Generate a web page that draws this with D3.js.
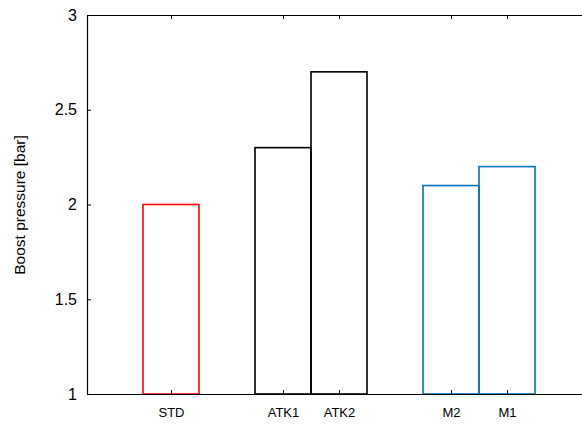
<!DOCTYPE html>
<html>
<head>
<meta charset="utf-8">
<script src="https://cdn.jsdelivr.net/npm/d3@7"></script>
<style>
  body { margin: 0; background: #fff; }
  text { font-family: "Liberation Sans", Arial, sans-serif; }
</style>
</head>
<body>
<div id="chart"></div>
<script>
// bar data
const categories = ["STD", "ATK1", "ATK2", "M2", "M1"];
const positions = [1, 3, 4, 6, 7];
const values = [2.0, 2.3, 2.7, 2.1, 2.2];
const groups = ["std", "atk", "atk", "mod", "mod"];
const yTicks = [1, 1.5, 2, 2.5, 3];

const colors = { std: "#ff0000", atk: "#000000", mod: "#0072bd" };

const width = 582, height = 427;
const plotLeft = 87, plotTop = 15, plotBottom = 394, plotRight = 591;

var svg = d3.select("#chart")
    .append("svg")
    .attr("width", width)
    .attr("height", height);

var x = d3.scaleLinear().domain([-0.5, 8.5]).range([plotLeft, plotRight]);
var y = d3.scaleLinear().domain([1, 3]).range([plotBottom, plotTop]);

// bars
svg.append("g")
    .selectAll("rect")
    .data(values)
    .enter().append("rect")
    .attr("x", function(d, i) { return x(positions[i] - 0.5); })
    .attr("width", function(d, i) { return x(positions[i] + 0.5) - x(positions[i] - 0.5); })
    .attr("y", function(d) { return y(d); })
    .attr("height", function(d) { return y(1) - y(d); })
    .style("fill", "none")
    .style("stroke", function(d, i) { return colors[groups[i]]; })
    .style("stroke-width", 1.6);

// axes (ticks inward, mirrored top)
var xAxis = d3.axisBottom(x).tickValues(positions)
    .tickFormat(function(d, i) { return categories[i]; })
    .tickSizeInner(-4).tickSizeOuter(0).tickPadding(14);
var xTop = d3.axisTop(x).tickValues(positions)
    .tickFormat("").tickSizeInner(-4).tickSizeOuter(0);
var yAxis = d3.axisLeft(y).tickValues(yTicks)
    .tickFormat(d3.format("")).tickSizeInner(-4).tickSizeOuter(0).tickPadding(10);

var gx = svg.append("g").attr("transform", "translate(0," + plotBottom + ")").call(xAxis);
var gt = svg.append("g").attr("transform", "translate(0," + plotTop + ")").call(xTop);
var gy = svg.append("g").attr("transform", "translate(" + plotLeft + ",0)").call(yAxis);

gx.selectAll("text").style("font-size", "13px").attr("fill", "#000");
gy.selectAll("text").style("font-size", "16px").attr("fill", "#000");
[gx, gt, gy].forEach(function(g) {
  g.selectAll("path").style("stroke", "#000").style("stroke-width", 1.2);
  g.selectAll("line").style("stroke", "#000");
});

svg.append("text")
    .attr("transform", "translate(25,205) rotate(-90)")
    .attr("text-anchor", "middle")
    .style("font-size", "15.5px")
    .text("Boost pressure [bar]");
</script>
</body>
</html>
